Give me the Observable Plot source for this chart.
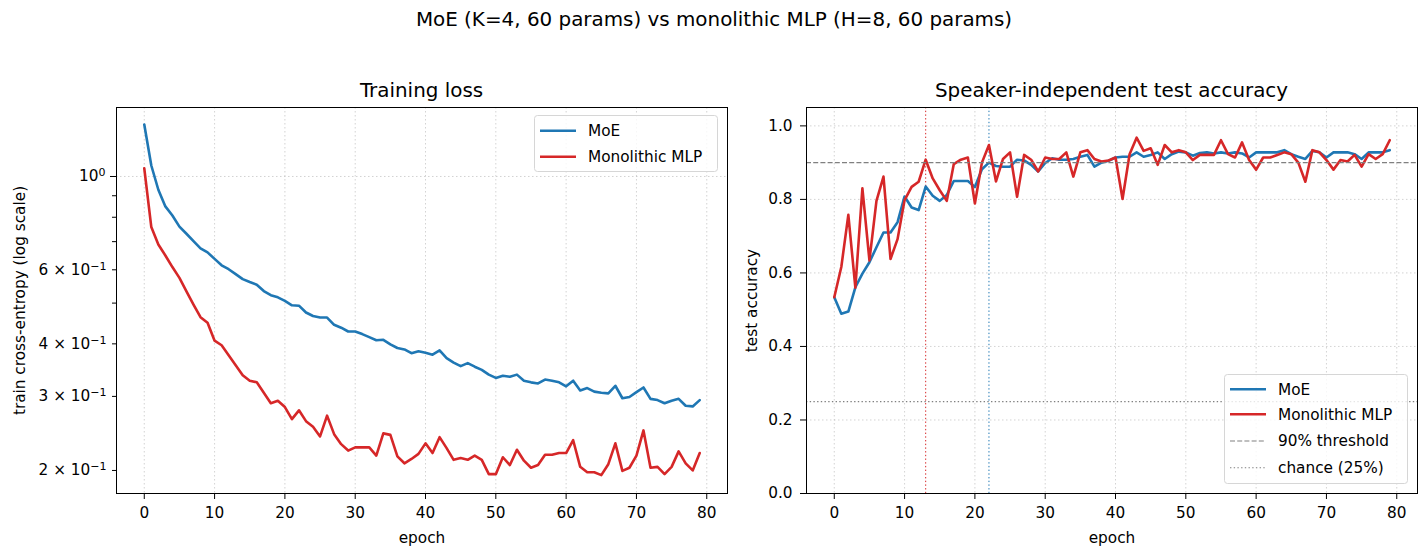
<!DOCTYPE html>
<html><head><meta charset="utf-8">
<script src="https://cdn.jsdelivr.net/npm/d3@7"></script>
<script src="https://cdn.jsdelivr.net/npm/@observablehq/plot@0.6"></script>
<style>
body{margin:0;background:#fff;font-family:"DejaVu Sans",sans-serif;}
#fig{position:relative;width:1428px;height:559px;overflow:hidden;background:#fff;}
.ttl{position:absolute;font-size:19.9px;color:#000;white-space:nowrap;transform:translate(-50%,-50%);line-height:1;}
.panel{position:absolute;}
.leg{position:absolute;overflow:visible;}
</style></head><body><div id="fig"></div>
<script>
// ---------- data ----------
const seriesNames = ["MoE", "Monolithic MLP"];
const seriesColors = ["#1f77b4", "#d62728"];

const moeLoss = [1.329,1.062,0.930,0.849,0.808,0.760,0.731,0.702,0.675,0.660,
  0.637,0.615,0.602,0.586,0.570,0.561,0.553,0.534,0.522,0.516,
  0.506,0.494,0.493,0.475,0.466,0.462,0.462,0.444,0.437,0.428,
  0.428,0.422,0.415,0.408,0.409,0.399,0.391,0.388,0.380,0.384,
  0.381,0.377,0.386,0.370,0.361,0.354,0.360,0.353,0.347,0.338,
  0.332,0.336,0.334,0.338,0.327,0.324,0.322,0.329,0.327,0.324,
  0.317,0.327,0.310,0.314,0.308,0.306,0.305,0.318,0.297,0.299,
  0.307,0.315,0.296,0.294,0.289,0.293,0.296,0.285,0.284,0.294];

const mlpLoss = [1.046,0.758,0.689,0.649,0.609,0.574,0.533,0.496,0.463,0.449,
  0.407,0.397,0.376,0.356,0.337,0.327,0.324,0.306,0.289,0.293,
  0.283,0.265,0.278,0.262,0.254,0.241,0.270,0.244,0.231,0.223,
  0.227,0.227,0.227,0.217,0.245,0.243,0.216,0.208,0.213,0.219,
  0.232,0.220,0.240,0.226,0.212,0.214,0.212,0.217,0.212,0.196,
  0.196,0.215,0.206,0.224,0.211,0.203,0.206,0.218,0.218,0.220,
  0.220,0.236,0.204,0.198,0.198,0.195,0.207,0.232,0.1995,0.203,
  0.217,0.249,0.203,0.204,0.196,0.204,0.222,0.208,0.200,0.220];

const moeAcc = [0.534,0.489,0.495,0.561,0.598,0.629,0.670,0.710,0.710,0.738,
  0.808,0.778,0.771,0.835,0.810,0.796,0.812,0.850,0.850,0.850,
  0.834,0.882,0.900,0.891,0.889,0.889,0.908,0.906,0.894,0.876,
  0.899,0.912,0.908,0.908,0.910,0.916,0.921,0.889,0.900,0.905,
  0.914,0.916,0.916,0.928,0.916,0.921,0.928,0.910,0.923,0.930,
  0.928,0.919,0.926,0.928,0.925,0.928,0.925,0.928,0.925,0.914,
  0.928,0.928,0.928,0.928,0.934,0.923,0.916,0.910,0.932,0.928,
  0.914,0.928,0.928,0.928,0.923,0.910,0.928,0.928,0.928,0.934];

const mlpAcc = [0.534,0.616,0.758,0.560,0.830,0.634,0.796,0.862,0.638,0.692,
  0.798,0.834,0.848,0.908,0.857,0.825,0.796,0.896,0.908,0.914,
  0.789,0.900,0.948,0.849,0.910,0.928,0.807,0.921,0.908,0.876,
  0.914,0.910,0.910,0.928,0.862,0.928,0.934,0.910,0.903,0.906,
  0.914,0.801,0.923,0.968,0.932,0.939,0.894,0.948,0.928,0.934,
  0.928,0.907,0.921,0.921,0.921,0.961,0.923,0.914,0.955,0.907,
  0.881,0.914,0.914,0.921,0.928,0.923,0.900,0.848,0.934,0.928,
  0.907,0.881,0.907,0.903,0.921,0.889,0.923,0.910,0.923,0.961];

// epochs where each model first reaches 90%
const firstHit = [{epoch: 13, series: 1}, {epoch: 22, series: 0}];
const thresholdValue = [0.9];
const chanceValue = [0.25];

const xTicks = [0, 10, 20, 30, 40, 50, 60, 70, 80];
const lossMajorTicks = [1];
const lossMajorLabels = ["10⁰"];
const lossLabeledMinor = [0.2, 0.3, 0.4, 0.6];
const lossLabeledMinorText = ["2 × 10⁻¹", "3 × 10⁻¹", "4 × 10⁻¹", "6 × 10⁻¹"];
const lossUnlabeledMinor = [0.5, 0.7, 0.8, 0.9];
const accTicks = [0, 0.2, 0.4, 0.6, 0.8, 1.0];

// ---------- layout ----------
const fig = document.getElementById("fig");
const FONT = "DejaVu Sans";
const FS = "15.3px";
const gridStyle = {stroke: "#b0b0b0", strokeOpacity: 0.7, strokeDasharray: "1.5,2.5", strokeWidth: 0.8};
const lossLabelMap = new Map([
  ...lossMajorTicks.map((t, i) => [t, lossMajorLabels[i]]),
  ...lossLabeledMinor.map((t, i) => [t, lossLabeledMinorText[i]])
]);

function addTitle(text, x, y) {
  const d = document.createElement("div");
  d.className = "ttl"; d.textContent = text;
  d.style.left = x + "px"; d.style.top = y + "px";
  fig.appendChild(d);
}
addTitle("MoE (K=4, 60 params) vs monolithic MLP (H=8, 60 params)", 714, 20);
addTitle("Training loss", 421.5, 91);
addTitle("Speaker-independent test accuracy", 1111.5, 91);

const TOP = 60, H = 499, MT = 47, MB = 66;
const idx = (d, i) => i;
const panelStyle = {fontFamily: FONT, fontSize: FS, background: "transparent", color: "#000", overflow: "visible"};

// ---------- left panel: loss ----------
const p1 = Plot.plot({
  width: 740, height: H,
  marginLeft: 116, marginRight: 13, marginTop: MT, marginBottom: MB,
  style: panelStyle,
  x: {domain: [-3.95, 82.95]},
  y: {type: "log", domain: [0.1763, 1.459]},
  marks: [
    Plot.gridX(xTicks, gridStyle),
    Plot.gridY(lossMajorTicks, gridStyle),
    Plot.line(moeLoss, {x: idx, y: d => d, stroke: seriesColors[0], strokeWidth: 2.6}),
    Plot.line(mlpLoss, {x: idx, y: d => d, stroke: seriesColors[1], strokeWidth: 2.6}),
    Plot.frame({stroke: "#000", strokeWidth: 1}),
    Plot.axisX(xTicks, {tickSize: 6, tickPadding: 8, label: "epoch", labelAnchor: "center", labelArrow: "none", labelOffset: 49}),
    Plot.axisY(lossMajorTicks, {tickSize: 6, tickPadding: 5, tickFormat: d => lossLabelMap.get(d),
      label: "train cross-entropy (log scale)", labelAnchor: "center", labelArrow: "none", labelOffset: 102}),
    Plot.axisY(lossLabeledMinor, {tickSize: 4, tickPadding: 6, tickFormat: d => lossLabelMap.get(d), label: null}),
    Plot.axisY(lossUnlabeledMinor, {tickSize: 4, tickFormat: () => "", label: null})
  ]
});
// render exponents as mathtext-like superscripts
d3.select(p1).selectAll("text").each(function () {
  const t = this.textContent;
  const m = t.match(/^(.*10)([⁰⁻¹]+)$/);
  if (!m) return;
  const sup = m[2].replace("⁻", "−").replace("¹", "1").replace("⁰", "0");
  const sel = d3.select(this);
  sel.text(null);
  sel.append("tspan").text(m[1]);
  sel.append("tspan").attr("dy", "-0.45em").attr("font-size", "0.72em").text(sup);
});
p1.classList.add("panel");
p1.style.left = "0px"; p1.style.top = TOP + "px";
fig.appendChild(p1);

// ---------- right panel: accuracy ----------
const p2 = Plot.plot({
  width: 688, height: H,
  marginLeft: 66, marginRight: 11, marginTop: MT, marginBottom: MB,
  style: panelStyle,
  x: {domain: [-3.95, 82.95]},
  y: {domain: [0, 1.05]},
  marks: [
    Plot.gridX(xTicks, gridStyle),
    Plot.gridY(accTicks, gridStyle),
    Plot.ruleX(firstHit, {x: "epoch", stroke: d => seriesColors[d.series], strokeWidth: 1, strokeDasharray: "1.4,2.3"}),
    Plot.line(moeAcc, {x: idx, y: d => d, stroke: seriesColors[0], strokeWidth: 2.6}),
    Plot.line(mlpAcc, {x: idx, y: d => d, stroke: seriesColors[1], strokeWidth: 2.6}),
    Plot.ruleY(thresholdValue, {stroke: "#808080", strokeWidth: 1.1, strokeDasharray: "5,2.2"}),
    Plot.ruleY(chanceValue, {stroke: "#808080", strokeWidth: 1.1, strokeDasharray: "1.4,2.3"}),
    Plot.frame({stroke: "#000", strokeWidth: 1}),
    Plot.axisX(xTicks, {tickSize: 6, tickPadding: 8, label: "epoch", labelAnchor: "center", labelArrow: "none", labelOffset: 49}),
    Plot.axisY(accTicks, {tickSize: 6, tickPadding: 8, tickFormat: d3.format(".1f"),
      label: "test accuracy", labelAnchor: "center", labelArrow: "none", labelOffset: 60})
  ]
});
p2.classList.add("panel");
p2.style.left = "740px"; p2.style.top = TOP + "px";
fig.appendChild(p2);

// ---------- legends ----------
function legend(left, top, w, h, rows) {
  const svg = d3.create("svg").attr("class", "leg").attr("width", w + 2).attr("height", h + 2)
    .style("left", (left - 1) + "px").style("top", (top - 1) + "px");
  svg.append("rect").attr("x", 1.5).attr("y", 1.5).attr("width", w - 1).attr("height", h - 1)
    .attr("rx", 3).attr("fill", "rgba(255,255,255,0.8)").attr("stroke", "#d6d6d6");
  rows.forEach(r => {
    svg.append("line").attr("x1", 7).attr("x2", 43).attr("y1", r.y + 1).attr("y2", r.y + 1)
      .attr("stroke", r.color).attr("stroke-width", r.width).attr("stroke-dasharray", r.dash || null);
    svg.append("text").attr("x", 55).attr("y", r.y + 1).attr("dy", "0.35em")
      .attr("font-family", FONT).attr("font-size", FS).attr("fill", "#000").text(r.label);
  });
  fig.appendChild(svg.node());
}
legend(534, 115, 184, 57, [
  {y: 15.7, color: seriesColors[0], width: 2.6, label: seriesNames[0]},
  {y: 41.7, color: seriesColors[1], width: 2.6, label: seriesNames[1]}
]);
legend(1224, 374, 184, 110, [
  {y: 15.3, color: seriesColors[0], width: 2.6, label: seriesNames[0]},
  {y: 40.3, color: seriesColors[1], width: 2.6, label: seriesNames[1]},
  {y: 67, color: "#808080", width: 1.1, dash: "5,2.2", label: "90% threshold"},
  {y: 93.7, color: "#808080", width: 1.1, dash: "1.4,2.3", label: "chance (25%)"}
]);
</script></body></html>
